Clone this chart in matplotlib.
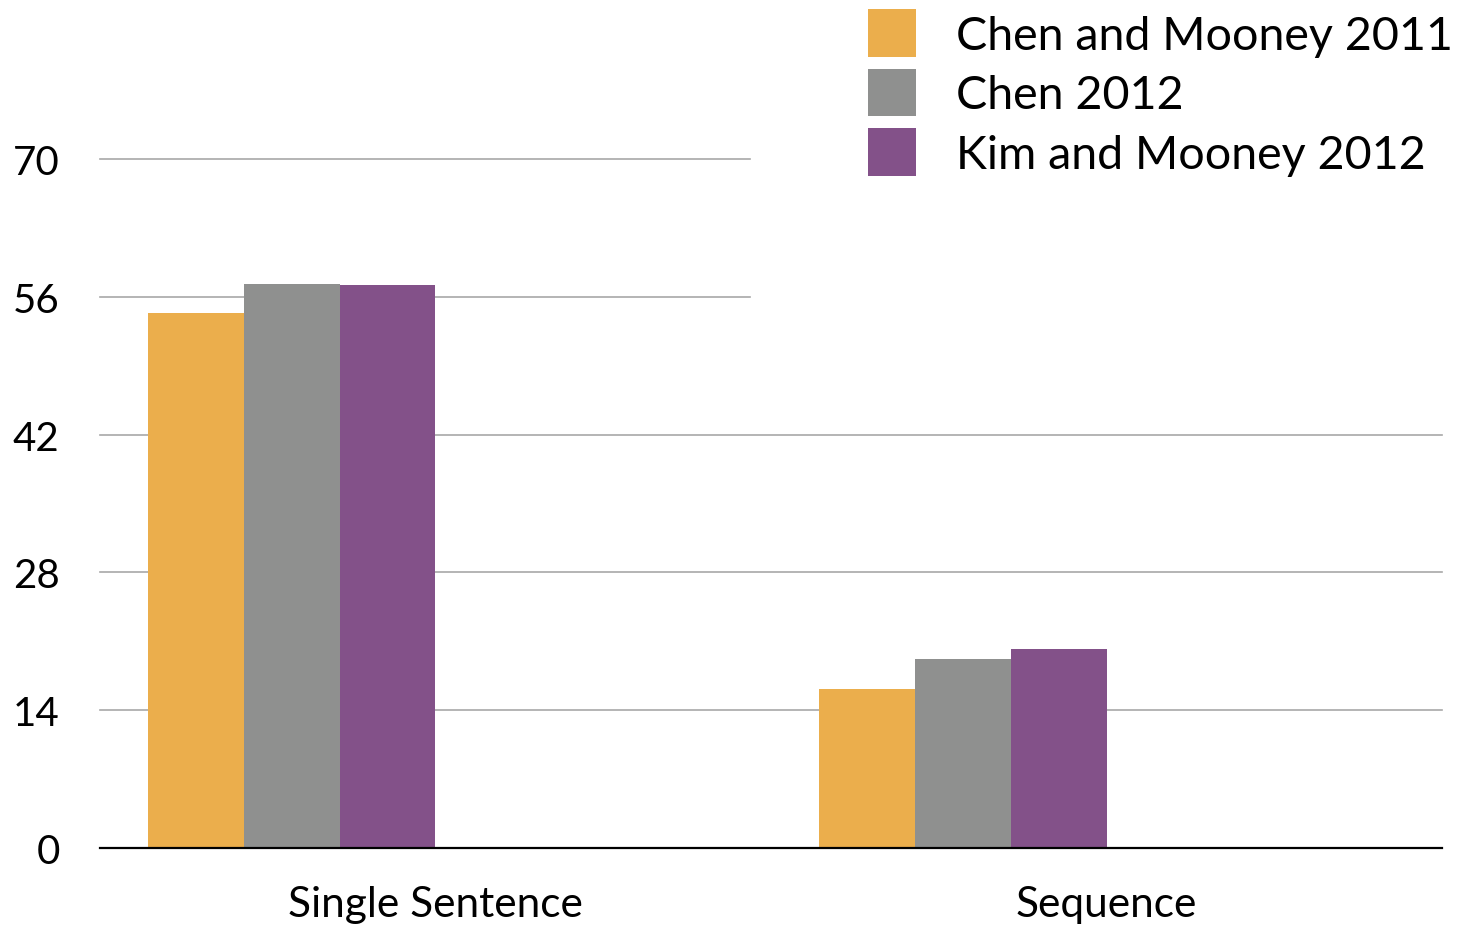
import matplotlib
matplotlib.use("Agg")
import matplotlib.pyplot as plt
from matplotlib.patches import Patch
import numpy as np

categories = ["Single Sentence", "Sequence"]
series = ["Chen and Mooney 2011", "Chen 2012", "Kim and Mooney 2012"]
chen_mooney_2011 = [54.40, 16.18]
chen_2012 = [57.28, 19.18]
kim_mooney_2012 = [57.22, 20.17]
yticks = [0, 14, 28, 42, 56, 70]

colors = ["#EBAE4C", "#8F908F", "#835189"]
values = [chen_mooney_2011, chen_2012, kim_mooney_2012]

plt.rcParams["font.family"] = ["Lato", "DejaVu Sans"]

W, H = 1461, 929
fig = plt.figure(figsize=(W / 100, H / 100), dpi=100)
ax = fig.add_axes([100 / W, 1 - 849 / H, (1442 - 100) / W, (849 - 160) / H])

# each category spans one unit, split into 7 slots (half-slot margins)
slot = 1 / 7
x0 = np.arange(len(categories))
for k, (vals, c) in enumerate(zip(values, colors)):
    ax.bar(x0 + slot * (0.5 + k), vals, width=slot, align="edge",
           color=c, linewidth=0, zorder=2)

ax.set_xlim(0, len(categories))
ax.set_ylim(0, 70)

# horizontal grid; upper lines stop short of the legend block
for t in yticks[1:]:
    xmax = (750 - 100) / (1442 - 100) if t >= 56 else 1.0
    ax.axhline(t, xmin=0, xmax=xmax, color="#A8A8A8", lw=1.2,
               zorder=1, clip_on=False)

for s in ["top", "right", "left"]:
    ax.spines[s].set_visible(False)
ax.spines["bottom"].set_color("black")
ax.spines["bottom"].set_linewidth(1.6)
ax.spines["bottom"].set_zorder(3)

ax.set_yticks(yticks)
ax.set_yticklabels([str(t) for t in yticks], fontsize=29)
ax.tick_params(axis="y", length=0, pad=29)
ax.set_xticks(x0 + 0.5)
ax.set_xticklabels(categories, fontsize=30.5)
ax.tick_params(axis="x", length=0, pad=27)

handles = [Patch(facecolor=c, edgecolor="none") for c in colors]
fig.legend(handles, series, loc="upper left",
           bbox_to_anchor=(868 / W, 1 - 10 / H), frameon=False,
           fontsize=33.6, handlelength=1.03, handleheight=1.2,
           handletextpad=0.85, labelspacing=0.25, borderpad=0,
           borderaxespad=0)

fig.savefig("out.png", dpi=100)
